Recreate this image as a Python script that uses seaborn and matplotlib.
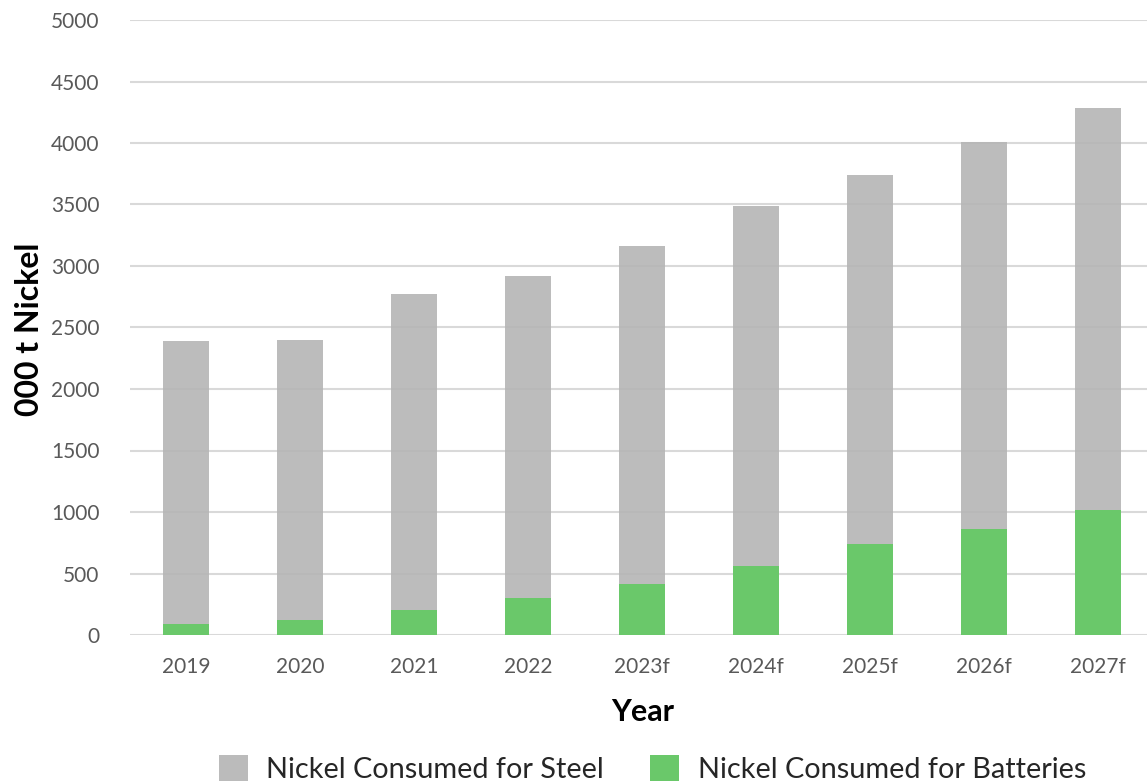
import matplotlib
matplotlib.use("Agg")
import matplotlib.pyplot as plt
import seaborn as sns
import pandas as pd
from matplotlib.patches import Patch

years = ["2019", "2020", "2021", "2022", "2023f", "2024f", "2025f", "2026f", "2027f"]
steel = [2300, 2275, 2565, 2615, 2750, 2930, 3005, 3142, 3270]
batteries = [92, 122, 205, 300, 413, 560, 738, 863, 1018]
y_ticks = [0, 500, 1000, 1500, 2000, 2500, 3000, 3500, 4000, 4500, 5000]

df = pd.DataFrame({"Year": years, "Steel": steel, "Batteries": batteries})
df["Total"] = df["Steel"] + df["Batteries"]

sns.set_theme(style="white")
plt.rcParams["font.family"] = ["Lato", "DejaVu Sans"]

W, H = 1147, 783
fig = plt.figure(figsize=(W / 100, H / 100), dpi=100)
ax = fig.add_axes([130 / W, (H - 635) / H, 1 - 130 / W, (635 - 20) / H])

grey = "#B5B5B5"
green = "#6AC86A"

sns.barplot(data=df, x="Year", y="Total", color=grey, width=0.4, ax=ax,
            saturation=1, alpha=0.9, zorder=2, linewidth=0, edgecolor="none")
sns.barplot(data=df, x="Year", y="Batteries", color=green, width=0.4, ax=ax,
            saturation=1, zorder=3, linewidth=0, edgecolor="none")

ax.set_xlim(-0.49, 8.43)
ax.set_ylim(0, 5000)
ax.set_yticks(y_ticks)
ax.set_yticklabels([str(t) for t in y_ticks])
ax.yaxis.grid(True, color="#D9D9D9", linewidth=1.5, zorder=0)
ax.set_axisbelow(True)
for s in ax.spines.values():
    s.set_visible(False)
ax.tick_params(axis="both", length=0, labelsize=15, labelcolor="#595959")
ax.tick_params(axis="x", pad=16)
ax.tick_params(axis="y", pad=22)

ax.set_xlabel("Year", fontsize=22, fontweight="bold", color="#000000")
ax.set_ylabel("000 t Nickel", fontsize=23, fontweight="bold", color="#000000")
ax.xaxis.set_label_coords((643 - 130) / (W - 130), -(698 - 635) / (635 - 20))
ax.yaxis.set_label_coords(-(130 - 44) / (W - 130), 0.497)

handles = [Patch(facecolor="#BBBBBB", edgecolor="none", label="Nickel Consumed for Steel"),
           Patch(facecolor=green, edgecolor="none", label="Nickel Consumed for Batteries")]
fig.legend(handles=handles, loc="center", bbox_to_anchor=(0.569, 0.018), ncol=2,
           frameon=False, fontsize=20.8, handlelength=1.0, handleheight=1.0,
           handletextpad=0.65, columnspacing=1.6)

fig.savefig("out.png", dpi=100)
